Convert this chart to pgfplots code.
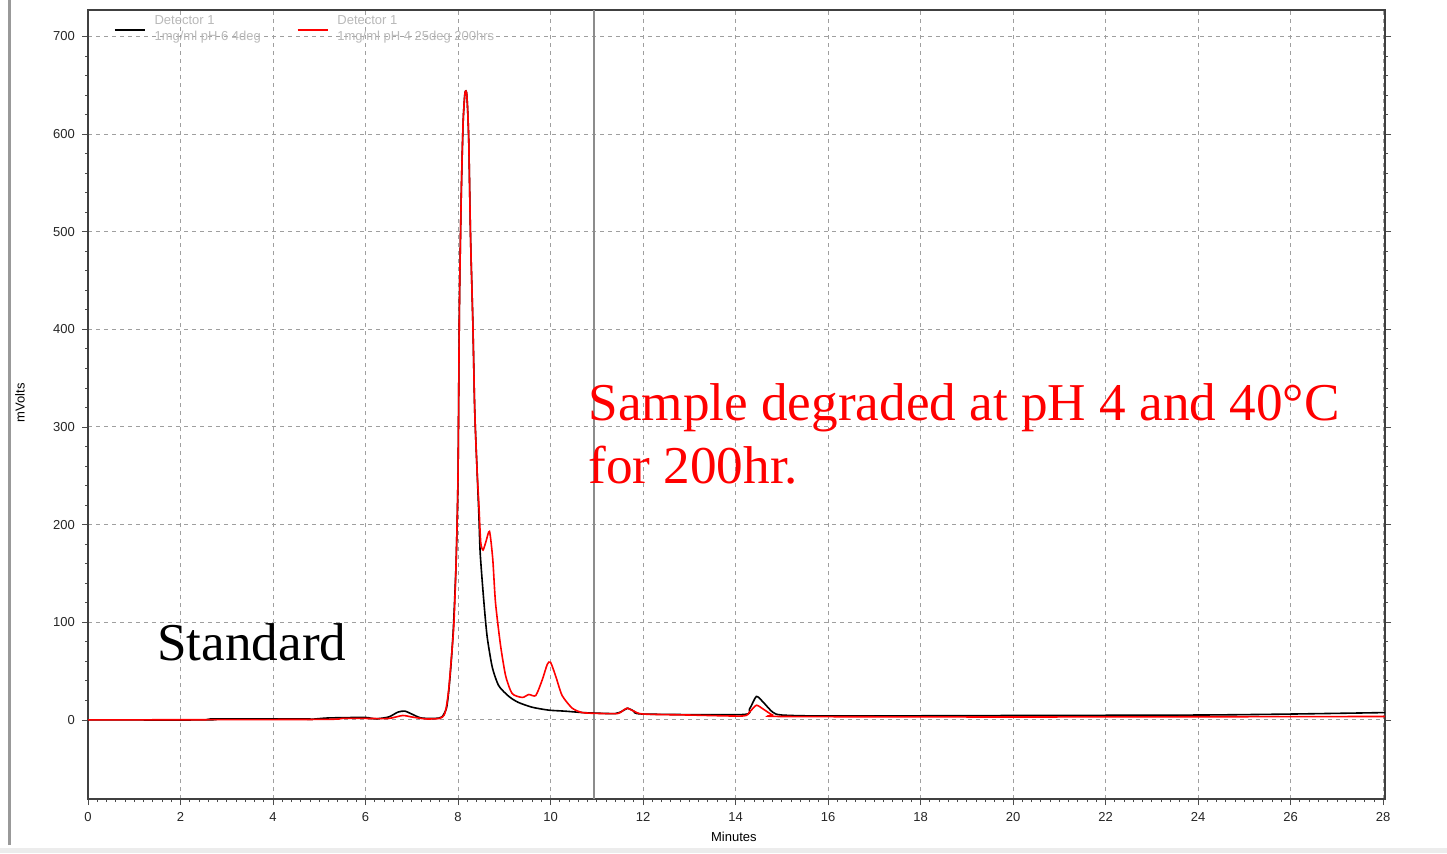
\documentclass[border=0pt]{standalone}
\usepackage{fontspec}
\setmainfont{Liberation Serif}
\newfontfamily\uisans{Liberation Sans}
\usepackage{pgfplots}
\pgfplotsset{compat=1.18}
\begin{document}
\begin{tikzpicture}
\useasboundingbox (0,0) rectangle (723.5pt,426.5pt);
\fill[white] (0,0) rectangle (723.5pt,426.5pt);
\draw[gray!80, line width=1.5pt] (4.5pt,4pt) -- (4.5pt,426.5pt);
\fill[gray!15] (0,0) rectangle (723.5pt,2.5pt);
\begin{axis}[
  at={(44pt,27pt)}, anchor=south west,
  scale only axis, width=648.5pt, height=394.5pt,
  xmin=0, xmax=28.04, ymin=-81, ymax=727,
  xtick={0,2,...,28}, ytick={0,100,...,700},
  minor x tick num=9, minor y tick num=4,
  tick align=outside, xtick pos=bottom, ytick pos=both,
  yticklabel pos=left,
  major tick length=3pt, minor tick length=1.5pt,
  tick style={black!70, line width=0.4pt},
  grid=major,
  major grid style={gray!75, dash pattern=on 2pt off 2pt, line width=0.5pt},
  axis line style={black!75, line width=1pt},
  ticklabel style={font=\uisans\fontsize{6.5}{7}\selectfont, text=black!85},
  /pgf/number format/assume math mode=true,
  /pgf/number format/1000 sep={},
  xlabel={Minutes}, ylabel={mVolts},
  every axis x label/.style={at={(axis description cs:0.498,-0.048)}, anchor=center, font=\uisans\fontsize{6.5}{7}\selectfont},
  every axis y label/.style={at={(axis description cs:-0.0524,0.502)}, anchor=center, rotate=90, font=\uisans\fontsize{6.5}{7}\selectfont},
  legend style={at={(axis description cs:0.0151,1.003)}, anchor=north west, draw=none, fill=none,
    legend columns=2, font=\uisans\fontsize{6.5}{8}\selectfont,
    /tikz/every even column/.append style={column sep=16pt}},
  legend cell align=left,
  legend image code/.code={\draw[#1] (0pt,0pt) -- (15pt,0pt); \path (17.5pt,0pt);},
]
\draw[gray!90, line width=0.6pt] (axis cs:10.94,-81) -- (axis cs:10.94,727);
\addplot[black, line width=0.8pt, smooth, tension=0.4] coordinates {
(0,0) (2.6,0) (2.7,1) (4.7,1) (4.8,0.5) (5.2,2) (6.0,2.5) (6.2,1) (6.5,3) (6.7,8) (6.85,9) (7.0,6) (7.2,2) (7.5,1.5) (7.65,3)
(7.75,12) (7.8,30) (7.85,58) (7.9,95) (7.96,164) (8.0,252) (8.03,424) (8.07,539) (8.11,612) (8.15,642) (8.19,640) (8.23,596) (8.27,495) (8.32,407)
(8.36,318) (8.41,257) (8.45,210) (8.48,170) (8.56,120) (8.63,85) (8.74,54) (8.88,35) (9.1,24) (9.3,18) (9.6,13) (9.96,10)
(10.3,9) (10.69,7.5) (10.94,7) (11.4,6.5) (11.55,9) (11.67,12) (11.8,9) (12.0,6) (14.15,5.5) (14.3,11) (14.45,24) (14.6,18)
(14.8,8) (15.0,5) (16.0,4) (20,4.5) (24,5) (26,6) (28.04,7.5)
};
\addplot[red, line width=0.8pt, smooth, tension=0.4] coordinates {
(0,0) (5,0.5) (5.5,1.5) (6.0,1.5) (6.5,1.5) (6.8,4.5) (7.0,3) (7.3,1) (7.6,1.5) (7.7,5) (7.75,14) (7.8,32) (7.85,60) (7.91,98) (7.96,164) (8.0,252)
(8.03,424) (8.07,539) (8.11,612) (8.15,642) (8.19,640) (8.23,596) (8.27,495) (8.32,407) (8.36,318) (8.41,257) (8.45,221)
(8.49,182) (8.54,174) (8.6,182) (8.68,193) (8.75,165) (8.81,120) (8.92,76) (9.03,45) (9.17,27) (9.39,23) (9.53,26) (9.68,25)
(9.82,41) (9.93,57) (10.0,59) (10.11,45) (10.25,25) (10.47,12) (10.69,7.5) (11.05,6.6) (11.45,6.5) (11.55,9) (11.65,12)
(11.8,9) (12.0,6) (13.0,5) (14.15,4) (14.3,8) (14.45,15) (14.6,11) (14.8,5) (15.0,3.5) (20,3) (28.04,3.5)
};
\addlegendimage{black, line width=0.8pt}
\addlegendentry{\textcolor{gray!55}{\shortstack[l]{Detector 1\\1mg/ml pH 6 4deg}}}
\addlegendimage{red, line width=0.8pt}
\addlegendentry{\textcolor{gray!55}{\shortstack[l]{Detector 1\\1mg/ml pH 4 25deg 200hrs}}}
\node[anchor=base west, inner sep=0pt, font=\fontsize{26.6}{30}\selectfont] at (axis cs:1.49,61) {Standard};
\node[anchor=base west, inner sep=0pt, text=red, font=\fontsize{26.6}{30}\selectfont] at (axis cs:10.81,307) {Sample degraded at pH 4 and 40°C};
\node[anchor=base west, inner sep=0pt, text=red, font=\fontsize{26.6}{30}\selectfont] at (axis cs:10.81,242.6) {for 200hr.};
\end{axis}
\end{tikzpicture}
\end{document}
